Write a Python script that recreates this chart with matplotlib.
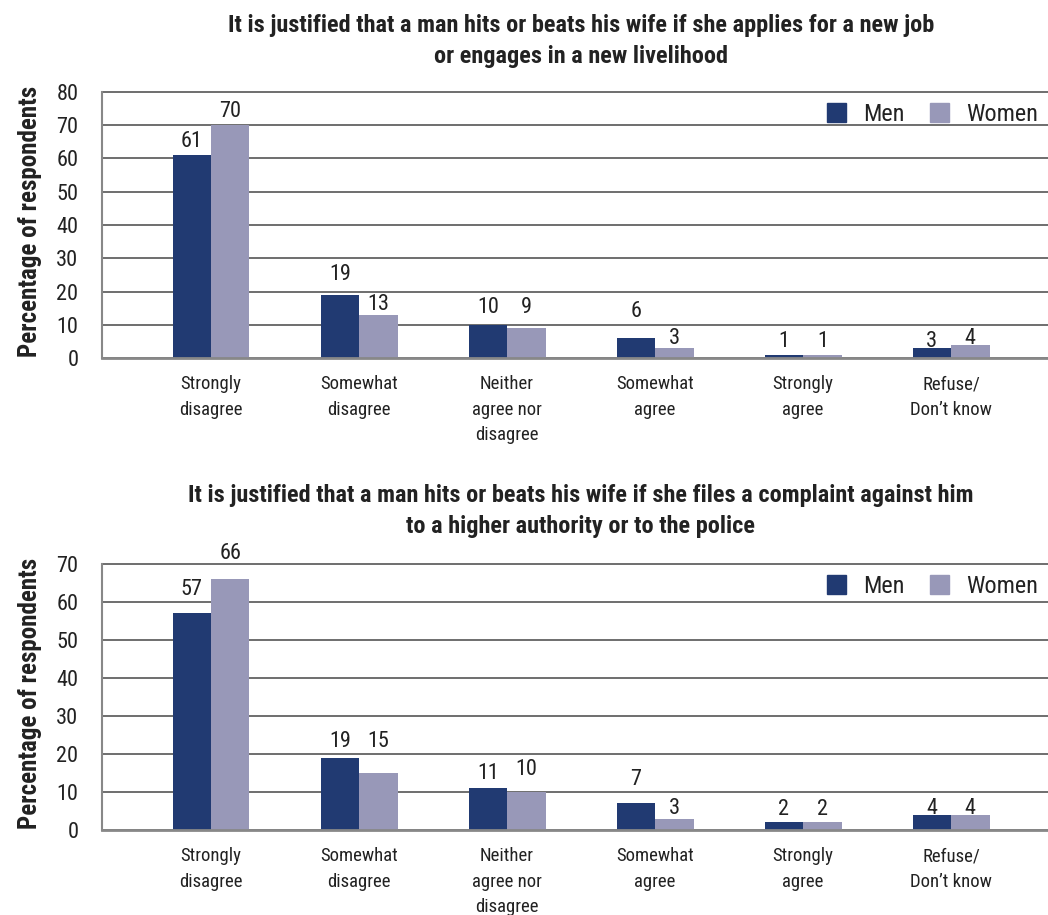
import matplotlib
matplotlib.use("Agg")
import matplotlib.pyplot as plt
from matplotlib import font_manager
from matplotlib.patches import Patch

# ---------------- data ----------------
categories = ["Strongly\ndisagree", "Somewhat\ndisagree", "Neither\nagree nor\ndisagree",
              "Somewhat\nagree", "Strongly\nagree", "Refuse/\nDon\u2019t know"]
series_names = ["Men", "Women"]

title_top = "It is justified that a man hits or beats his wife if she applies for a new job\nor engages in a new livelihood"
men_top = [61, 19, 10, 6, 1, 3]
women_top = [70, 13, 9, 3, 1, 4]

title_bottom = "It is justified that a man hits or beats his wife if she files a complaint against him\nto a higher authority or to the police"
men_bottom = [57, 19, 11, 7, 2, 4]
women_bottom = [66, 15, 10, 3, 2, 4]

ylabel = "Percentage of respondents"
yticks_top = [0, 10, 20, 30, 40, 50, 60, 70, 80]
yticks_bottom = [0, 10, 20, 30, 40, 50, 60, 70]

# ---------------- style ----------------
names = {f.name for f in font_manager.fontManager.ttflist}
cands = ["Liberation Sans Narrow", "Roboto Condensed", "Open Sans Condensed",
         "DejaVu Sans Condensed", "Roboto", "Liberation Sans"]
fam = next((c for c in cands if c in names), "DejaVu Sans")
plt.rcParams["font.family"] = [fam, "DejaVu Sans"]

MEN_C = "#213a72"
WOMEN_C = "#9898b8"
TXT = "#222222"

# label baseline offsets (px) above bar tops
off_top_m = [8, 15, 12, 21, 8, 1]
off_top_w = [8, 5, 15, 4, 8, 1]
off_bot_m = [18, 11, 9, 18, 7, 1]
off_bot_w = [20, 26, 17, 5, 7, 1]

W, H = 1048, 915
fig = plt.figure(figsize=(W / 100, H / 100), dpi=100)


def make(ax_rect, men, women, yticks, title, title_y, offm, offw):
    ax = fig.add_axes(ax_rect)
    x = list(range(len(categories)))
    bw = 0.26
    ax.bar([i - bw / 2 for i in x], men, width=bw, color=MEN_C, zorder=3)
    ax.bar([i + bw / 2 for i in x], women, width=bw, color=WOMEN_C, zorder=3)
    for i in x:
        ax.annotate(str(men[i]), (i - bw / 2, men[i]), xytext=(0, offm[i] * 0.72),
                    textcoords="offset points", ha="center", va="baseline",
                    fontsize=16, color=TXT)
        ax.annotate(str(women[i]), (i + bw / 2, women[i]), xytext=(0, offw[i] * 0.72),
                    textcoords="offset points", ha="center", va="baseline",
                    fontsize=16, color=TXT)
    ax.set_xlim(-0.7365, 5.655)
    ax.set_ylim(0, yticks[-1])
    ax.set_yticks(yticks)
    ax.set_xticks(x)
    ax.set_xticklabels(categories, fontsize=13.5, color=TXT, linespacing=1.52)
    ax.tick_params(axis="both", length=0, colors=TXT)
    ax.tick_params(axis="y", pad=17, labelsize=16)
    ax.tick_params(axis="x", pad=12.5)
    for s in ["top", "right"]:
        ax.spines[s].set_visible(False)
    ax.spines["left"].set_color("#888888")
    ax.spines["left"].set_linewidth(1.5)
    ax.spines["bottom"].set_color("#888888")
    ax.spines["bottom"].set_linewidth(2)
    ax.spines["bottom"].set_zorder(4)
    ax.yaxis.grid(True, color="#555555", linewidth=1.2, zorder=0)
    ax.set_axisbelow(True)
    for gl in ax.yaxis.get_gridlines():
        gl.set_clip_on(False)
    leg = ax.legend(handles=[Patch(color=MEN_C), Patch(color=WOMEN_C)],
                    labels=series_names, ncol=2, frameon=False, fontsize=17.5,
                    handlelength=0.78, handleheight=0.78, handletextpad=0.72,
                    columnspacing=1.05, loc="upper right",
                    bbox_to_anchor=(1.0, 0.995), borderaxespad=0.0)
    for t in leg.get_texts():
        t.set_color(TXT)
    fig.text(581 / W, title_y, title, ha="center", va="center", fontsize=17.5,
             fontweight="bold", color=TXT, linespacing=1.4)
    # y label
    bb = ax_rect
    fig.text(30 / W, bb[1] + bb[3] / 2 + 0.004, ylabel, rotation=90, ha="center",
             va="center", fontsize=18, fontweight="bold", color=TXT)
    return ax


left = 102 / W
width = (W - 102) / W
h = 266 / H
make([left, 1 - 358 / H, width, h], men_top, women_top, yticks_top,
     title_top, 1 - 41 / H, off_top_m, off_top_w)
make([left, 1 - 830 / H, width, h], men_bottom, women_bottom, yticks_bottom,
     title_bottom, 1 - 511 / H, off_bot_m, off_bot_w)

fig.savefig("out.png", dpi=100)
